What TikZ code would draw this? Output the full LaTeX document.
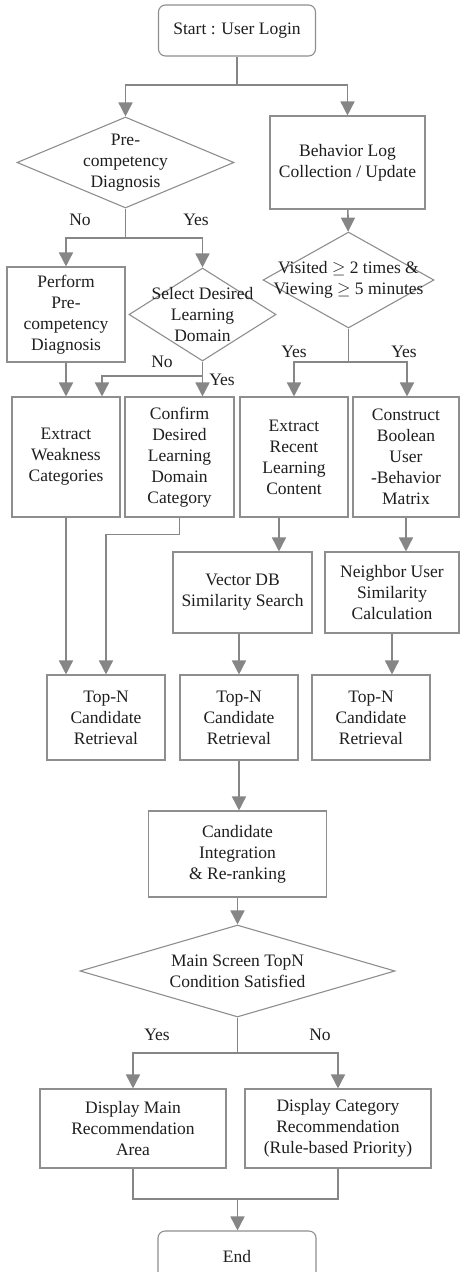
\documentclass[tikz,border=0pt]{standalone}
\usepackage{fontspec}
\setmainfont{Liberation Serif}
\usetikzlibrary{arrows.meta,shapes.geometric}
\definecolor{FlowLine}{HTML}{868686}
\definecolor{FlowEdge}{HTML}{8E8E8E}
\definecolor{FlowText}{HTML}{1E1E1E}

\begin{document}
\begin{tikzpicture}[x=1pt,y=-1pt,every node/.style={font=\fontsize{17.5}{21}\selectfont,text=FlowText}]
    \tikzset{proc/.style={draw=FlowEdge,line width=1.1pt,align=center,inner sep=1pt},
      term/.style={proc,rounded corners=7pt},
      cond/.style={draw=FlowEdge,line width=1.1pt,diamond,inner sep=0pt},
      condtext/.style={align=center},
      flow/.style={draw=FlowLine,line width=1.6pt},
      arr/.style={flow,-{Triangle[width=14pt,length=14pt]}},
      tag/.style={inner sep=0pt}}
    \useasboundingbox (0,0) rectangle (460,1272);
    % boxes and decisions
    \node[term,minimum width=157pt,minimum height=51pt] (start) at (237,30.5) {Start : User Login};
    \node[cond,minimum width=217pt,minimum height=91pt,label={[condtext]center:Pre-\\competency\\Diagnosis}] (prediag) at (125.5,162.5) {};
    \node[proc,minimum width=155pt,minimum height=93pt] (logcol) at (347.5,162.5) {Behavior Log\\Collection / Update};
    \node[cond,minimum width=171pt,minimum height=96pt,label={[condtext]center:Visited $\geq$ 2 times \&\\Viewing $\geq$ 5 minutes}] (visit) at (348.5,280) {};
    \node[proc,minimum width=118pt,minimum height=95pt] (perfdiag) at (66,314.5) {Perform\\Pre-\\competency\\Diagnosis};
    \node[cond,minimum width=147pt,minimum height=93pt,label={[condtext]center:Select Desired\\Learning\\Domain}] (seldom) at (202.5,314.5) {};
    \node[proc,minimum width=108pt,minimum height=120pt] (weak) at (66,457) {Extract\\Weakness\\Categories};
    \node[proc,minimum width=109pt,minimum height=120pt] (domcat) at (179.5,457) {Confirm\\Desired\\Learning\\Domain\\Category};
    \node[proc,minimum width=108pt,minimum height=120pt] (recent) at (294,457) {Extract\\Recent\\Learning\\Content};
    \node[proc,minimum width=106pt,minimum height=120pt] (boolmat) at (406,457) {Construct\\Boolean\\User\\-Behavior\\Matrix};
    \node[proc,minimum width=139pt,minimum height=81pt] (vecdb) at (242.5,592.5) {Vector DB\\Similarity Search};
    \node[proc,minimum width=134pt,minimum height=81pt] (neigh) at (392,592.5) {Neighbor User\\Similarity\\Calculation};
    \node[proc,minimum width=118pt,minimum height=85pt] (topa) at (106,717.5) {Top-N\\Candidate\\Retrieval};
    \node[proc,minimum width=118pt,minimum height=85pt] (topb) at (239,717.5) {Top-N\\Candidate\\Retrieval};
    \node[proc,minimum width=118pt,minimum height=85pt] (topc) at (371,717.5) {Top-N\\Candidate\\Retrieval};
    \node[proc,minimum width=178pt,minimum height=86pt] (merge) at (237.5,854) {Candidate\\Integration\\\& Re-ranking};
    \node[cond,minimum width=315pt,minimum height=92pt,label={[condtext]center:Main Screen TopN\\Condition Satisfied}] (topncond) at (237.5,971) {};
    \node[proc,minimum width=186pt,minimum height=79pt] (showmain) at (133,1128.5) {Display Main\\Recommendation\\Area};
    \node[proc,minimum width=186pt,minimum height=79pt] (showcat) at (338,1128.5) {Display Category\\Recommendation\\(Rule-based Priority)};
    \node[term,minimum width=158pt,minimum height=51pt] (end) at (237,1256.5) {End};
    % branch labels
    \node[tag] (lno1) at (80,220) {No};
    \node[tag] (lyes1) at (196,220) {Yes};
    \node[tag] (lyes2) at (294,352) {Yes};
    \node[tag] (lyes3) at (404,352) {Yes};
    \node[tag] (lno2) at (162,362) {No};
    \node[tag] (lyes4) at (222,380) {Yes};
    \node[tag] (lyes5) at (157,1035) {Yes};
    \node[tag] (lno3) at (320,1035) {No};
    % connectors
    \coordinate (s1) at (237,85);
    \draw[flow] (start) -- (s1);
    \draw[arr] (s1) -| (prediag.north);
    \draw[arr] (s1) -| (logcol.north);
    \coordinate (p1) at (125.5,238);
    \draw[flow] (prediag.south) -- (p1);
    \draw[arr] (p1) -| (perfdiag.north);
    \draw[arr] (p1) -| (seldom.north);
    \draw[arr] (logcol) -- (visit);
    \coordinate (v1) at (348.5,362);
    \draw[flow] (visit.south) -- (v1);
    \draw[arr] (v1) -| (recent.north);
    \draw[arr] (v1) -| ([xshift=1pt]boolmat.north);
    \draw[arr] (perfdiag) -- (weak);
    \coordinate (d1) at (202.5,376);
    \draw[flow] (seldom.south) -- (d1);
    \draw[arr] (d1) -- (d1 |- domcat.north);
    \draw[arr] (d1) -| ([xshift=36pt]weak.north);
    \draw[arr] (weak.south) -- (weak.south |- topa.north);
    \draw[arr] (domcat.south) -- ++(0,17) -| (topa.north);
    \coordinate (r1) at ([xshift=-15pt]recent.south);
    \draw[arr] (r1) -- (r1 |- vecdb.north);
    \draw[arr] (boolmat.south) -- (boolmat.south |- neigh.north);
    \draw[arr] (topb.north |- vecdb.south) -- (topb.north);
    \draw[arr] (neigh.south) -- (neigh.south |- topc.north);
    \draw[arr] (topb.south) -- (topb.south |- merge.north);
    \draw[arr] (merge) -- (topncond);
    \coordinate (m1) at (237.5,1053);
    \draw[flow] (topncond.south) -- (m1);
    \draw[arr] (m1) -| (showmain.north);
    \draw[arr] (m1) -| (showcat.north);
    \coordinate (m2) at (237.5,1199);
    \draw[flow] (showmain.south) |- (m2) -| (showcat.south);
    \draw[arr] (m2) -- (m2 |- end.north);
  \end{tikzpicture}
\end{document}
